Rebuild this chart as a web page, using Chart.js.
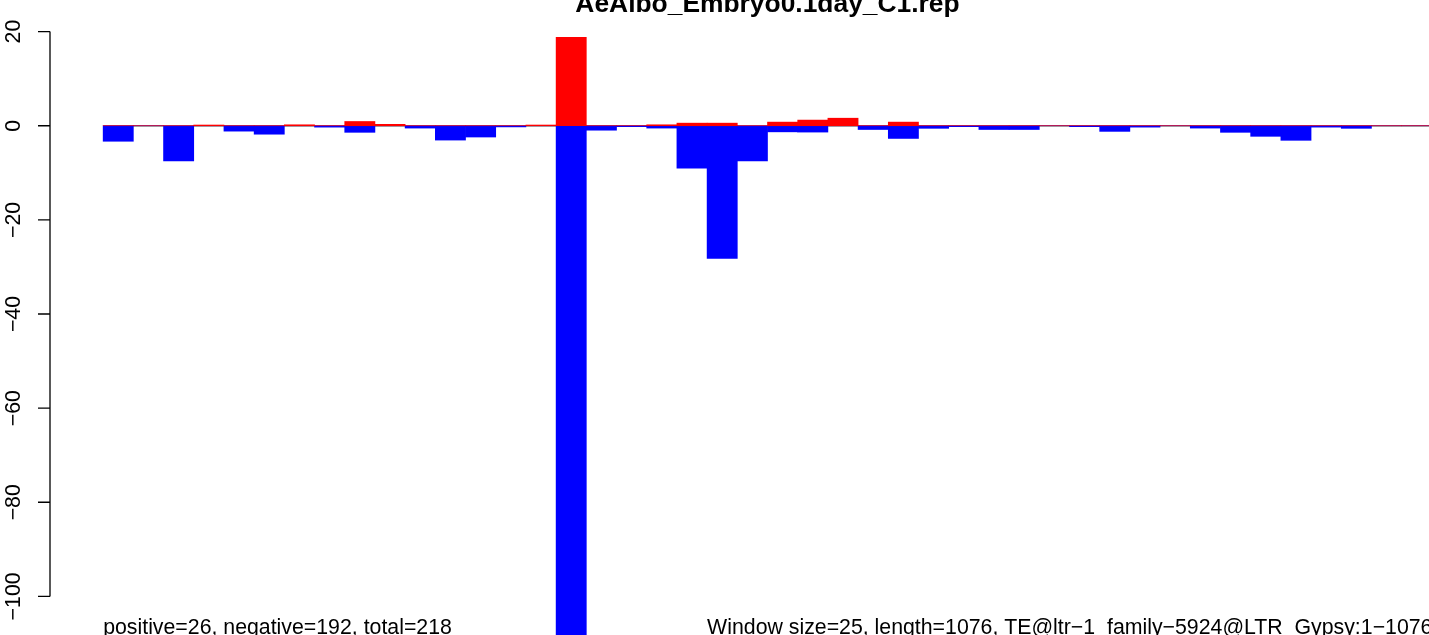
<!DOCTYPE html>
<html>
<head>
<meta charset="utf-8">
<script src="https://cdn.jsdelivr.net/npm/chart.js@4.4.1/dist/chart.umd.min.js"></script>
<style>
  html, body { margin: 0; padding: 0; background: #ffffff; width: 1429px; height: 635px; overflow: hidden; }
  canvas { display: block; }
</style>
</head>
<body>
<canvas id="c" width="1500" height="635" style="width:1500px;height:635px"></canvas>
<script>
// ---- data ----
const windowIndex = [0,1,2,3,4,5,6,7,8,9,10,11,12,13,14,15,16,17,18,19,20,21,
                     22,23,24,25,26,27,28,29,30,31,32,33,34,35,36,37,38,39,40,41,42,43];
const positiveValues = [0,0,0,0.15,0,0,0.2,0,0.9,0.3,0,0,0,0,0.15,18.8,0,0,0.2,0.55,0.55,0,
                        0.77,1.2,1.6,0,0.77,0,0,0,0,0,0,0,0,0,0,0,0,0,0,0,0,0];
const negativeValues = [-3.3,0,-7.5,0,-1.15,-1.8,0,-0.3,-1.4,0,-0.5,-3.05,-2.4,-0.25,0,-110,-0.95,-0.2,-0.5,-9.0,-28.2,-7.5,
                        -1.3,-1.35,0,-0.8,-2.7,-0.55,-0.2,-0.8,-0.8,0,-0.2,-1.2,-0.3,0,-0.5,-1.4,-2.25,-3.1,-0.3,-0.55,0,0];
const yTickValues = [20, 0, -20, -40, -60, -80, -100];
const yTickLabels = ['20', '0', '\u221220', '\u221240', '\u221260', '\u221280', '\u2212100'];
const titleText = 'AeAlbo_Embryo0.1day_C1.rep';
const leftNote = 'positive=26, negative=192, total=218';
const rightNote = 'Window size=25, length=1076, TE@ltr\u22121_family\u22125924@LTR_Gypsy:1\u22121076';

const FONT = '"Liberation Sans", Arial, Helvetica, sans-serif';

const toPoints = vals => vals.map((v, i) => ({ x: windowIndex[i] + 0.5, y: v }));

const decorPlugin = {
  id: 'decor',
  beforeDatasetsDraw(chart) {
    const ctx = chart.ctx, xs = chart.scales.x, ys = chart.scales.y;
    const y0 = ys.getPixelForValue(0);
    ctx.save();
    ctx.strokeStyle = '#8a8a8a';
    ctx.lineWidth = 1.4;
    ctx.beginPath();
    ctx.moveTo(xs.getPixelForValue(windowIndex[0]), y0 + 0.2);
    ctx.lineTo(xs.getPixelForValue(windowIndex[windowIndex.length - 1] + 1), y0 + 0.2);
    ctx.stroke();
    ctx.restore();
  },
  afterDraw(chart) {
    const ctx = chart.ctx, xs = chart.scales.x, ys = chart.scales.y;
    const area = chart.chartArea;
    const axisX = area.left;
    ctx.save();
    // y axis line and ticks
    ctx.strokeStyle = '#000000';
    ctx.lineWidth = 1.3;
    ctx.beginPath();
    ctx.moveTo(axisX, ys.getPixelForValue(yTickValues[0]));
    ctx.lineTo(axisX, ys.getPixelForValue(yTickValues[yTickValues.length - 1]));
    yTickValues.forEach(v => {
      const p = ys.getPixelForValue(v);
      ctx.moveTo(axisX, p);
      ctx.lineTo(axisX - 12, p);
    });
    ctx.stroke();
    // rotated tick labels
    ctx.fillStyle = '#000000';
    ctx.font = '21.3px ' + FONT;
    ctx.textAlign = 'center';
    ctx.textBaseline = 'alphabetic';
    yTickValues.forEach((v, i) => {
      const p = ys.getPixelForValue(v);
      ctx.save();
      ctx.translate(20, p);
      ctx.rotate(-Math.PI / 2);
      ctx.fillText(yTickLabels[i], 0, 0);
      ctx.restore();
    });
    // title
    ctx.font = 'bold 26.4px ' + FONT;
    ctx.textAlign = 'center';
    ctx.fillText(titleText, (area.left + area.right) / 2, 12);
    // bottom notes
    ctx.font = '21.3px ' + FONT;
    ctx.textAlign = 'left';
    ctx.fillText(leftNote, xs.getPixelForValue(windowIndex[0]), 634);
    ctx.fillText(rightNote, xs.getPixelForValue(windowIndex[20]), 634);
    ctx.restore();
  }
};

new Chart(document.getElementById('c'), {
  type: 'bar',
  data: {
    datasets: [
      { label: 'positive', data: toPoints(positiveValues), backgroundColor: '#ff0000', borderWidth: 0, clip: false },
      { label: 'negative', data: toPoints(negativeValues), backgroundColor: '#0000ff', borderWidth: 0, clip: false }
    ]
  },
  options: {
    responsive: false,
    animation: false,
    devicePixelRatio: 1,
    layout: { padding: { left: 50, top: 9, right: 15, bottom: 16 } },
    datasets: { bar: { grouped: false, barPercentage: 1.0, categoryPercentage: 1.0 } },
    plugins: { legend: { display: false }, tooltip: { enabled: false }, title: { display: false } },
    scales: {
      x: { type: 'linear', min: -1.76, max: 45.76, offset: false, display: false, grid: { display: false } },
      y: { type: 'linear', min: -104.8, max: 24.8, display: false, grid: { display: false } }
    }
  },
  plugins: [decorPlugin]
});
</script>
</body>
</html>
